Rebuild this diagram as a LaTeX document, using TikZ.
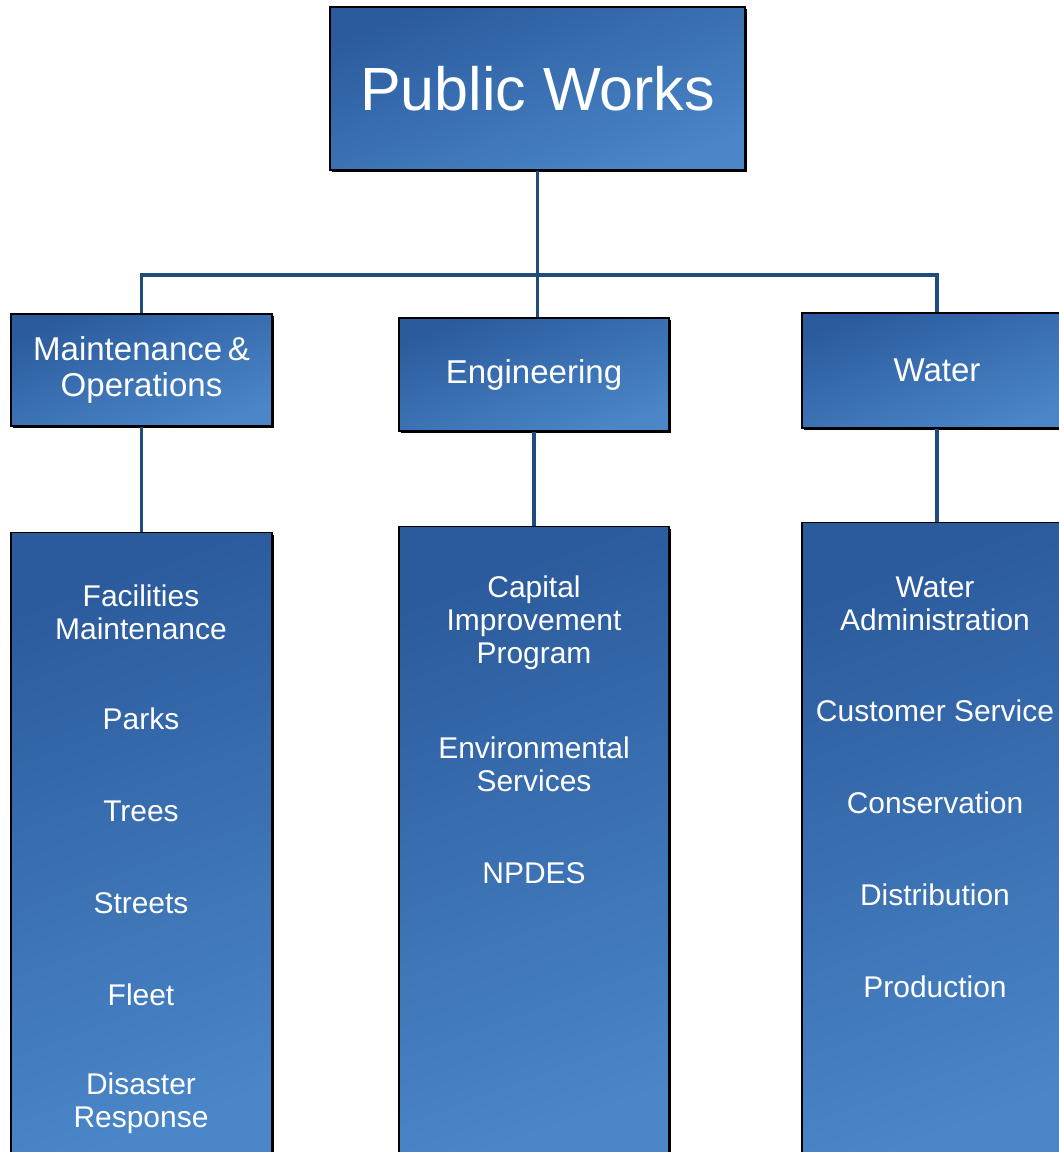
\documentclass[tikz,border=0pt]{standalone}
\usepackage{fontspec}
\setmainfont{Liberation Sans}
\usetikzlibrary{positioning,calc,shadows}
\definecolor{boxdark}{HTML}{2B5B9D}
\definecolor{boxlight}{HTML}{4A86C8}
\definecolor{linknavy}{HTML}{1F4C7C}

\tikzset{
  unitbox/.style={draw=black, line width=0.8pt, top color=boxdark, bottom color=boxlight,
    shading angle=20, text=white, align=center, inner sep=0pt,
    drop shadow={shadow xshift=1.6pt, shadow yshift=-1.6pt, fill=black, opacity=1}},
  link/.style={draw=linknavy, line width=2.6pt},
  headtext/.style={font=\fontsize{43.4}{48}\selectfont},
  deptext/.style={font=\fontsize{23.5}{25}\selectfont},
  itemtext/.style={text=white, align=center, font=\fontsize{21.3}{23.5}\selectfont}
}

\begin{document}
\begin{tikzpicture}[x=0.025cm, y=-0.025cm]
\clip (0,0) rectangle (1059,1152);
\fill[white] (0,0) rectangle (1059,1152);

% top
\node[unitbox, headtext, minimum width=10.375cm, minimum height=4.075cm] (pw) at (537.5,88.5) {Public Works};

% departments
\node[unitbox, deptext, minimum width=6.525cm, minimum height=2.8cm] (mo) at (141.5,370) {Maintenance\,\&\\Operations};
\node[unitbox, deptext, minimum width=6.75cm, minimum height=2.825cm] (eng) at (534,374.5) {Engineering};
\node[unitbox, deptext, minimum width=6.75cm, minimum height=2.875cm] (wat) at (937,370.5) {Water};

% division lists
\node[unitbox, minimum width=6.525cm, minimum height=15.925cm] (mol) at (141.5,851.5) {};
\node[unitbox, minimum width=6.75cm, minimum height=16.075cm] (engl) at (534,848.5) {};
\node[unitbox, minimum width=6.75cm, minimum height=16.175cm] (watl) at (937,846.5) {};

% connectors
\coordinate (bus) at (537.5,275);
\draw[link] (pw.south) -- (pw.south |- eng.north);
\draw[link] (mo.north) -- (mo.north |- bus) -- (wat.north |- bus) -- (wat.north);
\draw[link] (mo.south) -- (mol.north);
\draw[link] (eng.south) -- (engl.north);
\draw[link] (wat.south) -- (watl.north);

% maintenance & operations
\node[itemtext] (fac) at (141,612) {Facilities\\Maintenance};
\node[itemtext] (parks) at (141,719) {Parks};
\node[itemtext] (trees) at (141,811) {Trees};
\node[itemtext] (streets) at (141,903) {Streets};
\node[itemtext] (fleet) at (141,995) {Fleet};
\node[itemtext] (disaster) at (141,1103) {Disaster\\Response};

% engineering
\node[itemtext] (cip) at (534,623) {Capital\\Improvement\\Program};
\node[itemtext] (env) at (534,764) {Environmental\\Services};
\node[itemtext] (npdes) at (534,873) {NPDES};

% water
\node[itemtext] (wadmin) at (935,604) {Water\\Administration};
\node[itemtext] (cust) at (935,711) {Customer Service};
\node[itemtext] (cons) at (935,803) {Conservation};
\node[itemtext] (dist) at (935,895) {Distribution};
\node[itemtext] (prod) at (935,987) {Production};
\end{tikzpicture}
\end{document}
